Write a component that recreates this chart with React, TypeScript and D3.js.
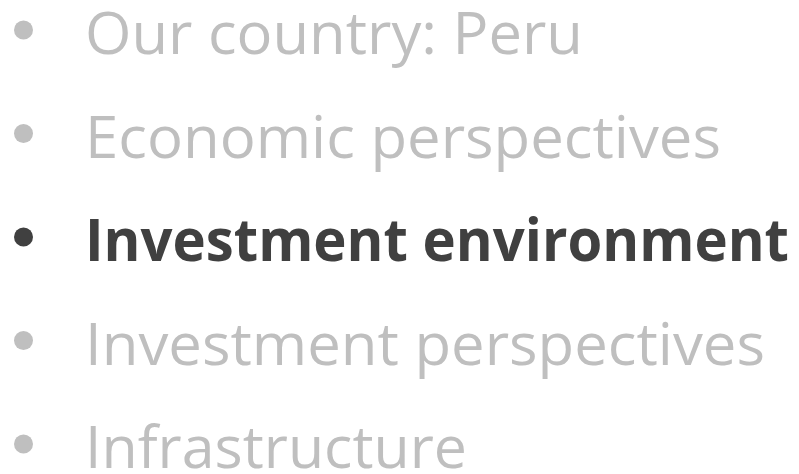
import React from "react";
import * as d3 from "d3";

const items: string[] = [
  "Our country: Peru",
  "Economic perspectives",
  "Investment environment",
  "Investment perspectives",
  "Infrastructure",
];
const highlighted: boolean[] = [false, false, true, false, false];
const measuredWidths: number[] = [498, 636, 704, 680, 382];

const W = 799;
const H = 474;

export default function App() {
  const y = d3.scaleLinear().domain([0, items.length - 1]).range([54, 468]);
  return (
    <svg
      width={W}
      height={H}
      style={{ position: "absolute", left: 0, top: 0, background: "#fff" }}
    >
      {items.map((t, i) => {
        const color = highlighted[i] ? "#404040" : "#BFBFBF";
        return (
          <g key={t}>
            <circle cx={23.5} cy={y(i) - 24} r={9.5} fill={color} />
            <text
              x={85}
              y={y(i)}
              fill={color}
              fontFamily="'Open Sans', 'Noto Sans', sans-serif"
              fontWeight={highlighted[i] ? 700 : 400}
              fontSize={59}
              textLength={measuredWidths[i]}
              lengthAdjust="spacingAndGlyphs"
            >
              {t}
            </text>
          </g>
        );
      })}
    </svg>
  );
}
